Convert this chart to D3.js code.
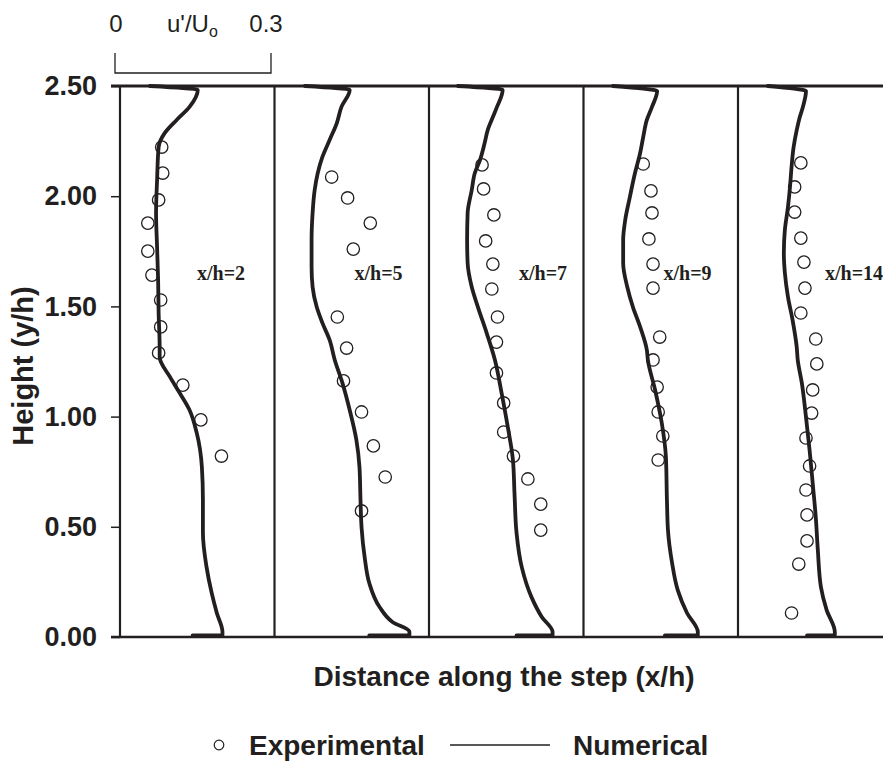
<!DOCTYPE html>
<html>
<head>
<meta charset="utf-8">
<script src="https://cdn.jsdelivr.net/npm/d3@7"></script>
<style>
  body { margin: 0; background: #fff; }
  svg { display: block; }
  text { font-family: "Liberation Sans", Arial, sans-serif; fill: #231f20; }
</style>
</head>
<body>
<svg id="chart" width="883" height="765"></svg>
<script>
// ---------------- data ----------------
const panels = ["x/h=2", "x/h=5", "x/h=7", "x/h=9", "x/h=14"];
const yTicks = [0, 0.5, 1.0, 1.5, 2.0, 2.5];
const scaleTicks = [0, 0.3];

// numerical profiles: [u'/Uo, y/h]
const num2 = [[0.141,0.007],[0.199,0.008],[0.199,0.023],[0.188,0.109],[0.178,0.200],[0.168,0.318],[0.161,0.472],[0.161,0.622],[0.159,0.771],[0.149,0.926],[0.135,1.030],[0.116,1.107],[0.097,1.180],[0.077,1.270],[0.077,1.316],[0.075,1.470],[0.074,1.620],[0.072,1.769],[0.070,1.924],[0.072,2.073],[0.075,2.223],[0.087,2.287],[0.110,2.346],[0.135,2.405],[0.151,2.482],[0.058,2.50]];
const num5 = [[0.184,0.007],[0.262,0.008],[0.262,0.023],[0.229,0.068],[0.204,0.136],[0.184,0.245],[0.175,0.363],[0.169,0.499],[0.167,0.622],[0.165,0.771],[0.159,0.894],[0.146,1.030],[0.132,1.152],[0.117,1.257],[0.107,1.348],[0.093,1.425],[0.082,1.497],[0.074,1.588],[0.072,1.679],[0.072,1.801],[0.074,1.924],[0.078,2.028],[0.084,2.105],[0.093,2.178],[0.107,2.255],[0.121,2.332],[0.130,2.405],[0.146,2.482],[0.059,2.50]];
const num7 = [[0.170,0.007],[0.240,0.008],[0.240,0.023],[0.219,0.091],[0.199,0.181],[0.180,0.318],[0.170,0.472],[0.166,0.653],[0.163,0.803],[0.153,0.953],[0.141,1.107],[0.128,1.257],[0.112,1.379],[0.095,1.497],[0.083,1.588],[0.075,1.697],[0.074,1.801],[0.075,1.924],[0.083,2.028],[0.089,2.105],[0.099,2.164],[0.108,2.241],[0.114,2.300],[0.124,2.359],[0.132,2.405],[0.143,2.482],[0.056,2.50]];
const num9 = [[0.158,0.007],[0.222,0.008],[0.222,0.023],[0.201,0.109],[0.183,0.213],[0.172,0.336],[0.164,0.485],[0.162,0.622],[0.160,0.817],[0.152,0.971],[0.139,1.121],[0.125,1.257],[0.123,1.302],[0.110,1.407],[0.096,1.497],[0.085,1.588],[0.077,1.697],[0.077,1.801],[0.081,1.892],[0.090,1.996],[0.100,2.105],[0.110,2.196],[0.116,2.269],[0.123,2.346],[0.133,2.405],[0.143,2.477],[0.057,2.50]];
const num14 = [[0.134,0.007],[0.188,0.008],[0.188,0.023],[0.172,0.123],[0.161,0.227],[0.155,0.395],[0.151,0.544],[0.145,0.699],[0.139,0.848],[0.132,0.998],[0.124,1.152],[0.116,1.257],[0.114,1.316],[0.106,1.438],[0.097,1.543],[0.091,1.652],[0.089,1.742],[0.091,1.847],[0.097,1.951],[0.101,2.042],[0.104,2.133],[0.108,2.223],[0.114,2.300],[0.120,2.359],[0.126,2.405],[0.132,2.477],[0.058,2.50]];

// experimental points: [u'/Uo, y/h]
const exp2 = [[0.081,2.223],[0.083,2.105],[0.075,1.983],[0.054,1.878],[0.054,1.751],[0.062,1.642],[0.079,1.529],[0.079,1.407],[0.075,1.289],[0.122,1.143],[0.157,0.985],[0.197,0.821]];
const exp5 = [[0.111,2.087],[0.142,1.992],[0.186,1.878],[0.153,1.760],[0.122,1.452],[0.140,1.311],[0.134,1.162],[0.169,1.021],[0.192,0.867],[0.215,0.726],[0.169,0.572]];
const exp7 = [[0.103,2.142],[0.106,2.033],[0.126,1.915],[0.110,1.797],[0.124,1.692],[0.122,1.579],[0.133,1.452],[0.131,1.338],[0.131,1.198],[0.145,1.062],[0.145,0.930],[0.164,0.821],[0.192,0.717],[0.217,0.603],[0.217,0.485]];
const exp9 = [[0.116,2.146],[0.131,2.024],[0.133,1.924],[0.127,1.806],[0.135,1.692],[0.135,1.583],[0.148,1.361],[0.135,1.257],[0.143,1.134],[0.145,1.021],[0.154,0.912],[0.145,0.803]];
const exp14 = [[0.122,2.151],[0.110,2.042],[0.110,1.928],[0.122,1.810],[0.128,1.701],[0.130,1.583],[0.122,1.470],[0.151,1.352],[0.153,1.239],[0.145,1.121],[0.143,1.016],[0.132,0.903],[0.139,0.776],[0.132,0.667],[0.134,0.554],[0.134,0.436],[0.118,0.331],[0.104,0.109]];

const numerical = [num2, num5, num7, num9, num14];
const experimental = [exp2, exp5, exp7, exp9, exp14];

// ---------------- layout ----------------
const svg = d3.select("#chart");
const ink = "#231f20";

const y = d3.scaleLinear().domain([0, 2.5]).range([637, 86]);
const panelX = d3.scaleBand().domain(panels).range([120, 120 + 5 * 154.5]).paddingInner(0);
const u = d3.scaleLinear().domain([0, 0.3]).range([0, panelX.bandwidth()]);

// frame lines
svg.append("line").attr("x1", 111).attr("x2", 883).attr("y1", y(2.5)).attr("y2", y(2.5))
  .attr("stroke", ink).attr("stroke-width", 3);
svg.append("line").attr("x1", 111).attr("x2", 883).attr("y1", y(0)).attr("y2", y(0))
  .attr("stroke", ink).attr("stroke-width", 2.5);

// y axis
const yAxis = svg.append("g").attr("transform", `translate(${panelX(panels[0])},0)`)
  .call(d3.axisLeft(y).tickValues(yTicks).tickFormat(d3.format(".2f")).tickSize(9).tickPadding(14));
yAxis.select(".domain").remove();
yAxis.selectAll(".tick line").attr("stroke", ink).attr("stroke-width", 1.5);
yAxis.selectAll(".tick text").attr("font-family", "'Liberation Sans', Arial, sans-serif")
  .attr("font-size", 27).attr("font-weight", "bold").attr("fill", ink);

// panels
const line = d3.line().x(d => u(d[0])).y(d => y(d[1])).curve(d3.curveMonotoneY);

panels.forEach((p, i) => {
  const g = svg.append("g").attr("transform", `translate(${panelX(p)},0)`);
  g.append("line").attr("x1", 0).attr("x2", 0).attr("y1", y(2.5)).attr("y2", y(0))
    .attr("stroke", ink).attr("stroke-width", 2.2);
  g.append("path").datum(numerical[i]).attr("d", line)
    .attr("fill", "none").attr("stroke", ink).attr("stroke-width", 3.8)
    .attr("stroke-linejoin", "round").attr("stroke-linecap", "round");
  g.selectAll("circle.exp").data(experimental[i]).join("circle")
    .attr("class", "exp")
    .attr("cx", d => u(d[0])).attr("cy", d => y(d[1])).attr("r", 6.2)
    .attr("fill", "none").attr("stroke", ink).attr("stroke-width", 1.3);
  const labelX = [77, 80, 90, 80, 87][i];
  g.append("text").attr("x", labelX).attr("y", 280)
    .style("font-family", "'Liberation Serif', 'Times New Roman', serif")
    .attr("font-size", 20).attr("font-weight", "bold").text(p);
});

// scale bar (u'/Uo)
const sb = d3.scaleLinear().domain([0, 0.3]).range([115, 271]);
svg.append("path")
  .attr("d", `M${sb(0)},53 V73 H${sb(0.3)} V53`)
  .attr("fill", "none").attr("stroke", ink).attr("stroke-width", 1.3);
scaleTicks.forEach(t => {
  svg.append("text").attr("x", sb(t) + (t === 0 ? 1 : -5)).attr("y", 32).attr("text-anchor", "middle")
    .attr("font-size", 24).text(t === 0 ? "0" : "0.3");
});
const ut = svg.append("text").attr("x", 167).attr("y", 32).attr("font-size", 24);
ut.append("tspan").text("u'/U");
ut.append("tspan").attr("font-size", 16).attr("dy", 5).text("o");

// axis titles
svg.append("text").attr("x", 504).attr("y", 686).attr("text-anchor", "middle")
  .attr("font-size", 28).attr("font-weight", "bold").text("Distance along the step (x/h)");
svg.append("text").attr("transform", "translate(33,366) rotate(-90)").attr("text-anchor", "middle")
  .attr("font-size", 29).attr("font-weight", "bold").text("Height (y/h)");

// legend
svg.append("circle").attr("cx", 219).attr("cy", 745).attr("r", 4.8)
  .attr("fill", "none").attr("stroke", ink).attr("stroke-width", 1.2);
svg.append("text").attr("x", 249).attr("y", 755).attr("font-size", 28).attr("font-weight", "bold").text("Experimental");
svg.append("line").attr("x1", 450).attr("x2", 550).attr("y1", 745).attr("y2", 745)
  .attr("stroke", ink).attr("stroke-width", 1.5);
svg.append("text").attr("x", 573).attr("y", 755).attr("font-size", 28).attr("font-weight", "bold").text("Numerical");
</script>
</body>
</html>
